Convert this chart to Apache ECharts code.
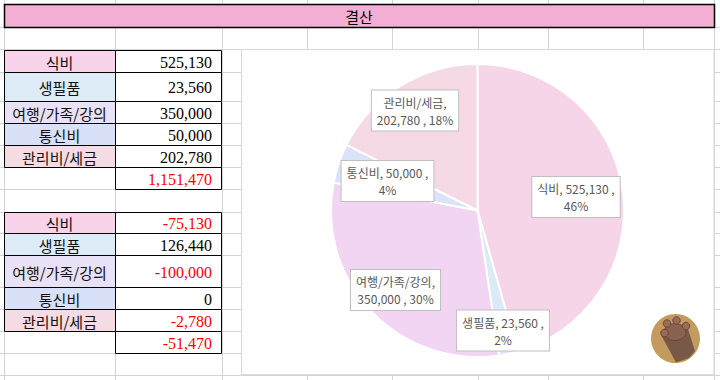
<!DOCTYPE html>
<html><head><meta charset="utf-8">
<script src="https://cdn.jsdelivr.net/npm/echarts@6/dist/echarts.min.js"></script>
<style>html,body{margin:0;padding:0;background:#fff;}#c{width:720px;height:380px;}</style>
</head><body><div id="c"></div>
<script>
// ---- data ----
const title = '결산';
const categories = ['식비', '생필품', '여행/가족/강의', '통신비', '관리비/세금'];
const amounts = [525130, 23560, 350000, 50000, 202780];
const amountTotal = 1151470;
const differences = [-75130, 126440, -100000, 0, -2780];
const differenceTotal = -51470;

// ---- styles / layout ----
const cellColors = ['#F9D3E9', '#DDEBF7', '#E9E1F5', '#D9E1F8', '#F5DBE3'];
const sliceColors = ['#F7D5E9', '#DBEAF6', '#F2D4F3', '#DAE3F8', '#F5D9E4'];
const GRID = '#D4D4D4';
const colX = [4, 115, 222, 307, 392, 478, 548, 643, 714];
const rowY = [27, 49, 72, 101, 123, 145, 167, 189, 212, 233, 255, 287, 309, 331, 353, 375];
const table1Rows = [50, 72, 101, 123, 145, 167, 189];
const table2Rows = [212, 233, 255, 287, 309, 331, 353];
const labelCenters = [[576, 197], [503, 330.5], [395.5, 290], [387.5, 181], [415, 110.5]];
const KFONT = '"Noto Sans CJK KR", "Noto Sans", sans-serif';
const NFONT = '"Liberation Serif", "DejaVu Serif", serif';

const fmt = v => v.toLocaleString('en-US');
const g = [];
colX.forEach(x => g.push({type: 'line', shape: {x1: x + .5, y1: 0, x2: x + .5, y2: 380}, style: {stroke: GRID, lineWidth: 1}}));
rowY.forEach(y => g.push({type: 'line', shape: {x1: 0, y1: y + .5, x2: 720, y2: y + .5}, style: {stroke: GRID, lineWidth: 1}}));
// title bar
g.push({type: 'rect', shape: {x: 4.5, y: 4.5, width: 710, height: 23}, style: {fill: '#F3AFD3', stroke: '#000', lineWidth: 1.5}});
g.push({type: 'text', style: {text: title, x: 359, y: 16, align: 'center', verticalAlign: 'middle', font: '15px ' + KFONT, fill: '#000'}});
// chart area
g.push({type: 'rect', shape: {x: 241.5, y: 49.5, width: 472.5, height: 325}, style: {fill: '#fff', stroke: '#D9D9D9', lineWidth: 1}});

function drawTable(rows, values, total) {
  for (let i = 0; i < categories.length; i++) {
    const y0 = rows[i], y1 = rows[i + 1], cy = (y0 + y1) / 2;
    g.push({type: 'rect', shape: {x: 4.5, y: y0 + .5, width: 111, height: y1 - y0}, style: {fill: cellColors[i], stroke: '#000', lineWidth: 1}});
    g.push({type: 'rect', shape: {x: 115.5, y: y0 + .5, width: 106, height: y1 - y0}, style: {fill: '#fff', stroke: '#000', lineWidth: 1}});
    g.push({type: 'text', style: {text: categories[i], x: 59.5, y: cy + 1, align: 'center', verticalAlign: 'middle', font: '15px ' + KFONT, fill: '#111'}});
    g.push({type: 'text', style: {text: fmt(values[i]), x: 212, y: cy + 1, align: 'right', verticalAlign: 'middle', font: '16px ' + NFONT, fill: values[i] < 0 ? '#FF0000' : '#000'}});
  }
  const y0 = rows[5], y1 = rows[6];
  g.push({type: 'rect', shape: {x: 115.5, y: y0 + .5, width: 106, height: y1 - y0}, style: {fill: '#fff', stroke: '#000', lineWidth: 1}});
  g.push({type: 'text', style: {text: fmt(total), x: 212, y: (y0 + y1) / 2 + 1, align: 'right', verticalAlign: 'middle', font: '16px ' + NFONT, fill: '#FF0000'}});
}
drawTable(table1Rows, amounts, amountTotal);
drawTable(table2Rows, differences, differenceTotal);

// decorative paw sticker
g.push({type: 'circle', shape: {cx: 675.5, cy: 338.5, r: 24.5}, style: {fill: '#C49B5F'}});
g.push({type: 'polygon', shape: {points: [[661, 335], [688, 329], [695, 351], [689, 358], [676, 362.5]]}, style: {fill: '#7A5848'}});
g.push({type: 'ellipse', shape: {cx: 675, cy: 332, rx: 11, ry: 8.5}, style: {fill: '#8A6251', stroke: '#5E4034', lineWidth: 0.8}});
[[664.5, 333], [667, 323.5], [676.5, 320.5], [686, 326]].forEach(p => g.push({type: 'circle', shape: {cx: p[0], cy: p[1], r: 3.8}, style: {fill: '#9A6B58', stroke: '#5E4034', lineWidth: 0.8}}));

const chart = echarts.init(document.getElementById('c'), null, {renderer: 'svg'});
chart.setOption({
  animation: false,
  graphic: {elements: g},
  series: [{
    type: 'pie',
    center: [477.5, 210.5],
    radius: 146.5,
    startAngle: 90,
    clockwise: true,
    z: 5,
    emphasis: {disabled: true},
    itemStyle: {borderColor: '#fff', borderWidth: 2},
    data: categories.map((n, i) => ({name: n, value: amounts[i], itemStyle: {color: sliceColors[i]}})),
    label: {
      position: 'inside',
      formatter: p => {
        const pct = Math.round(p.percent) + '%';
        return p.name.length > 3 ? p.name + ',\n' + fmt(p.value) + ' , ' + pct
                                 : p.name + ', ' + fmt(p.value) + ' ,\n' + pct;
      },
      backgroundColor: '#fff', borderColor: '#BFBFBF', borderWidth: 1,
      padding: [3, 5], color: '#595959', fontSize: 12, lineHeight: 17,
      fontFamily: 'Noto Sans CJK KR', align: 'center'
    },
    labelLayout: p => ({x: labelCenters[p.dataIndex][0], y: labelCenters[p.dataIndex][1], align: 'center', verticalAlign: 'middle'})
  }]
});
</script></body></html>
